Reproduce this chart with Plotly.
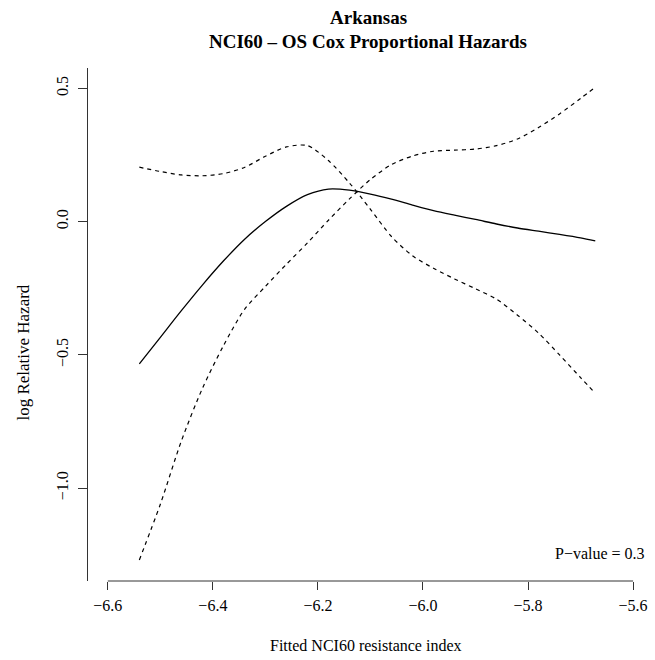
import plotly.graph_objects as go

# ---- data ----
x_vals = [-6.54, -6.50, -6.46, -6.42, -6.38, -6.34, -6.30, -6.26, -6.22, -6.18,
          -6.14, -6.10, -6.06, -6.02, -5.98, -5.94, -5.90, -5.86, -5.82, -5.78,
          -5.74, -5.70, -5.672]
log_rel_hazard = [-0.534, -0.434, -0.334, -0.238, -0.148, -0.067, 0.000, 0.057, 0.101, 0.122,
                  0.118, 0.103, 0.084, 0.062, 0.041, 0.024, 0.008, -0.009, -0.024, -0.036,
                  -0.048, -0.061, -0.072]
ci_a = [0.204, 0.188, 0.175, 0.172, 0.180, 0.203, 0.245, 0.280, 0.285, 0.229,
        0.145, 0.046, -0.056, -0.128, -0.175, -0.215, -0.252, -0.291, -0.351, -0.418,
        -0.500, -0.585, -0.644]
ci_b = [-1.269, -1.060, -0.823, -0.626, -0.466, -0.330, -0.243, -0.160, -0.080, 0.005,
        0.085, 0.158, 0.214, 0.246, 0.264, 0.268, 0.272, 0.285, 0.310, 0.353,
        0.404, 0.462, 0.504]

x_ticks = [-6.6, -6.4, -6.2, -6.0, -5.8, -5.6]
y_ticks = [0.5, 0.0, -0.5, -1.0]

title_line1 = "Arkansas"
title_line2 = "NCI60 \u2013 OS Cox Proportional Hazards"
x_title = "Fitted NCI60 resistance index"
y_title = "log Relative Hazard"
p_text = "P\u2212value = 0.3"

def fmt(v):
    s = f"{abs(v):.1f}"
    return ("\u2212" + s) if v < 0 else s

FONT = "Liberation Serif, Times New Roman, serif"

# ---- layout geometry (pixels) ----
W, H = 655, 660
L, R, T, B = 88, 648, 68, 581
xpx_per_unit = 530.0
x0_px = 108.0  # pixel of x = -6.6
ypx_per_unit = 266.6
y0_px = 221.6  # pixel of y = 0

x_range = [x_ticks[0] - (x0_px - L) / xpx_per_unit, x_ticks[0] + (R - x0_px) / xpx_per_unit]
y_range = [-(B - y0_px) / ypx_per_unit, (y0_px - T) / ypx_per_unit]

def px_x(p):
    return (p - L) / (R - L)

def px_y(p):
    return (B - p) / (B - T)

fig = go.Figure()
fig.add_trace(go.Scatter(x=x_vals, y=log_rel_hazard, mode="lines",
                         line=dict(color="black", width=1.3, shape="spline", smoothing=0.8),
                         showlegend=False, hoverinfo="skip"))
for ci in (ci_a, ci_b):
    fig.add_trace(go.Scatter(x=x_vals, y=ci, mode="lines",
                             line=dict(color="black", width=1.2, dash="4px,4px",
                                       shape="spline", smoothing=0.8),
                             showlegend=False, hoverinfo="skip"))

# x axis line spanning the tick range only
fig.add_shape(type="line", xref="x", yref="paper", x0=min(x_ticks), x1=max(x_ticks),
              y0=0, y1=0, line=dict(color="#333", width=1))

annotations = [
    dict(text="<b>" + title_line1 + "</b>", x=px_x(371), y=px_y(17), xref="paper", yref="paper",
         showarrow=False, xanchor="center", yanchor="middle",
         font=dict(family=FONT, size=19, color="black")),
    dict(text="<b>" + title_line2 + "</b>", x=px_x(371), y=px_y(42), xref="paper", yref="paper",
         showarrow=False, xanchor="center", yanchor="middle",
         font=dict(family=FONT, size=19, color="black")),
    dict(text=x_title, x=px_x(369), y=px_y(645), xref="paper", yref="paper",
         showarrow=False, xanchor="center", yanchor="middle",
         font=dict(family=FONT, size=16, color="black")),
    dict(text=y_title, x=px_x(22), y=px_y(353), xref="paper", yref="paper", textangle=-90,
         showarrow=False, xanchor="center", yanchor="middle",
         font=dict(family=FONT, size=17, color="black")),
    dict(text=p_text, x=px_x(652), y=px_y(553), xref="paper", yref="paper",
         showarrow=False, xanchor="right", yanchor="middle",
         font=dict(family=FONT, size=16, color="black")),
]

fig.update_layout(
    width=W, height=H,
    margin=dict(l=L, r=W - R, t=T, b=H - B, pad=0),
    paper_bgcolor="white", plot_bgcolor="white",
    font=dict(family=FONT, size=16, color="black"),
    annotations=annotations,
    xaxis=dict(range=x_range, tickvals=x_ticks, ticktext=[fmt(v) for v in x_ticks],
               showgrid=False, zeroline=False, showline=False,
               ticks="outside", ticklen=8, tickcolor="#333", tickwidth=1,
               ticklabelstandoff=2,
               tickfont=dict(family=FONT, size=16, color="black")),
    yaxis=dict(range=y_range, tickvals=y_ticks, ticktext=[fmt(v) for v in y_ticks],
               showgrid=False, zeroline=False, showline=True, linecolor="#333", linewidth=1,
               ticks="outside", ticklen=9, tickcolor="#333", tickwidth=1, tickangle=-90,
               ticklabelstandoff=4,
               tickfont=dict(family=FONT, size=16, color="black")),
)

fig.write_html("out.html")
